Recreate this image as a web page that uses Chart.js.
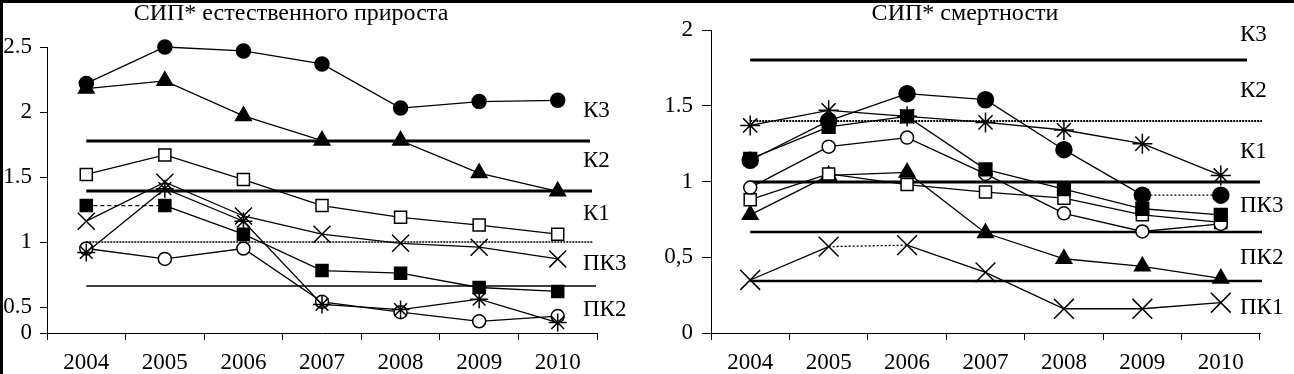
<!DOCTYPE html>
<html>
<head>
<meta charset="utf-8">
<script src="https://cdn.jsdelivr.net/npm/chart.js@4.4.0/dist/chart.umd.min.js"></script>
<style>
  body { margin: 0; background: #fff; width: 1294px; height: 374px; overflow: hidden; position: relative; }
  #left { position: absolute; left: 0; top: 0; }
  #right { position: absolute; left: 640px; top: 0; }
  #frame { position: absolute; left: 0; top: 0; width: 1294px; height: 374px; box-sizing: border-box;
           border-top: 3px solid #000; border-left: 3px solid #000; pointer-events: none; }
</style>
</head>
<body>
<canvas id="left" width="640" height="374"></canvas>
<canvas id="right" width="654" height="374"></canvas>
<div id="frame"></div>
<script>
const years = ['2004', '2005', '2006', '2007', '2008', '2009', '2010'];

// СИП* естественного прироста
const growthCircleFilled = [2.22, 2.50, 2.47, 2.37, 2.03, 2.08, 2.09];
const growthTriangle     = [2.18, 2.24, 1.97, 1.78, 1.78, 1.53, 1.39];
const growthSquareOpen   = [1.52, 1.67, 1.48, 1.28, 1.19, 1.13, 1.06];
const growthSquareFilled = [1.28, 1.28, 1.06, 0.78, 0.76, 0.65, 0.62];
const growthCross        = [1.16, 1.46, 1.20, 1.06, 0.99, 0.96, 0.87];
const growthStar         = [0.92, 1.41, 1.16, 0.52, 0.48, 0.56, 0.38];
const growthCircleOpen   = [0.95, 0.87, 0.95, 0.54, 0.46, 0.39, 0.43];
const growthBounds = [1.78, 1.39, 1.0, 0.66];
const growthZones = ['К3', 'К2', 'К1', 'ПК3', 'ПК2'];
const growthTicks = [0.3, 0.5, 1, 1.5, 2, 2.5];
const growthTickLabels = ['0', '0.5', '1', '1.5', '2', '2.5'];

// СИП* смертности
const deathCircleFilled = [1.14, 1.40, 1.58, 1.54, 1.21, 0.91, 0.91];
const deathSquareFilled = [1.15, 1.36, 1.43, 1.08, 0.95, 0.82, 0.78];
const deathStar         = [1.37, 1.47, 1.43, 1.39, 1.34, 1.25, 1.04];
const deathCircleOpen   = [0.96, 1.23, 1.29, 1.05, 0.79, 0.67, 0.72];
const deathSquareOpen   = [0.88, 1.05, 0.98, 0.93, 0.89, 0.78, 0.73];
const deathTriangle     = [0.78, 1.04, 1.06, 0.66, 0.49, 0.44, 0.36];
const deathCross        = [0.35, 0.57, 0.58, 0.40, 0.16, 0.16, 0.20];
const deathBounds = [1.8, 1.4, 1.0, 0.667, 0.34];
const deathZones = ['К3', 'К2', 'К1', 'ПК3', 'ПК2', 'ПК1'];
const deathTicks = [0, 0.5, 1, 1.5, 2];
const deathTickLabels = ['0', '0,5', '1', '1.5', '2'];

const SERIF = "'Liberation Serif', 'Times New Roman', serif";
const font = { family: SERIF, size: 23 };

// boundary lines between zones + zone names on the right
const zonePlugin = {
  id: 'zones',
  beforeDatasetsDraw(chart, args, opts) {
    const { ctx, chartArea, scales: { x, y } } = chart;
    const x0 = x.getPixelForValue(0);
    ctx.save();
    ctx.strokeStyle = '#000';
    opts.values.forEach((v, i) => {
      const st = opts.styles[i];
      const py = Math.round(y.getPixelForValue(v));
      ctx.lineWidth = st.width;
      ctx.setLineDash(st.dash || []);
      ctx.beginPath();
      ctx.moveTo(x0, py);
      ctx.lineTo(chartArea.right - (st.cut || 0), py);
      ctx.stroke();
    });
    ctx.restore();
  },
  afterDraw(chart, args, opts) {
    const { ctx, chartArea, scales: { y } } = chart;
    ctx.save();
    ctx.fillStyle = '#000';
    ctx.font = `${font.size}px ${SERIF}`;
    ctx.textBaseline = 'middle';
    ctx.textAlign = 'left';
    opts.names.forEach((t, i) => {
      ctx.fillText(t, chartArea.right - opts.inset, y.getPixelForValue(opts.nameAt[i]));
    });
    ctx.font = `24px ${SERIF}`;
    ctx.textAlign = 'center';
    ctx.fillText(opts.title, opts.titleX, 14);
    ctx.restore();
  }
};

function series(data, style, filled, radius, segment) {
  return {
    data,
    pointStyle: style,
    pointRadius: radius,
    pointHoverRadius: radius,
    borderColor: '#000',
    borderWidth: 1.3,
    pointBackgroundColor: filled ? '#000' : '#fff',
    pointBorderColor: '#000',
    pointBorderWidth: 1.5,
    fill: false,
    tension: 0,
    clip: false,
    segment: segment || {}
  };
}

const dashFirst = { borderDash: c => c.p0DataIndex === 0 ? [4, 3] : undefined };

function makeChart(id, datasets, o) {
  return new Chart(document.getElementById(id), {
    type: 'line',
    data: { labels: years, datasets },
    options: {
      responsive: false,
      animation: false,
      events: [],
      layout: { padding: { top: o.padTop, right: o.padRight, left: 0, bottom: 0 } },
      plugins: { legend: { display: false }, tooltip: { enabled: false }, zones: o.zones },
      scales: {
        x: {
          offset: true,
          grid: { offset: true, drawOnChartArea: false, tickLength: 7, color: '#000' },
          border: { color: '#000', width: 1, dash: [2, 2] },
          ticks: { color: '#000', font, padding: 9, maxRotation: 0 },
          afterFit: s => { s.height = 41; }
        },
        y: {
          min: o.ticks[0],
          max: o.ticks[o.ticks.length - 1],
          afterBuildTicks: s => { s.ticks = o.ticks.map(v => ({ value: v })); },
          grid: { drawOnChartArea: false, tickLength: o.tickLen, color: '#000' },
          border: { color: '#000', width: 1, dash: [2, 2] },
          ticks: { color: '#000', font, padding: o.labelPad, callback: (v, i) => o.tickLabels[i] },
          afterFit: s => { s.width = o.yWidth; }
        }
      }
    },
    plugins: [zonePlugin]
  });
}

makeChart('left', [
  series(growthCircleFilled, 'circle', true, 7),
  series(growthTriangle, 'triangle', true, 9),
  series(growthSquareOpen, 'rect', false, 8.5),
  series(growthSquareFilled, 'rect', true, 8.5, dashFirst),
  series(growthCross, 'crossRot', false, 12),
  series(growthStar, 'star', false, 9),
  series(growthCircleOpen, 'circle', false, 6.5)
], {
  padTop: 47, padRight: 43, yWidth: 47, tickLen: 7, labelPad: 8,
  ticks: growthTicks, tickLabels: growthTickLabels,
  zones: {
    values: growthBounds,
    styles: [{ width: 3, cut: 7 }, { width: 3, cut: 5 }, { width: 1.5, dash: [2, 1], cut: 4 }, { width: 1.5, cut: 1 }],
    names: growthZones,
    nameAt: [2.01, 1.62, 1.215, 0.83, 0.48],
    inset: 14,
    title: 'СИП* естественного прироста',
    titleX: 291
  }
});

makeChart('right', [
  series(deathCircleFilled, 'circle', true, 8, { borderDash: c => c.p0DataIndex === 5 ? [2, 2] : undefined }),
  series(deathSquareFilled, 'rect', true, 9),
  series(deathStar, 'star', false, 10),
  series(deathCircleOpen, 'circle', false, 6.5),
  series(deathSquareOpen, 'rect', false, 8.5),
  series(deathTriangle, 'triangle', true, 9),
  series(deathCross, 'crossRot', false, 14, { borderDash: c => c.p0DataIndex === 1 ? [2, 2] : undefined })
], {
  padTop: 30, padRight: 34, yWidth: 71, tickLen: 9, labelPad: 9,
  ticks: deathTicks, tickLabels: deathTickLabels,
  zones: {
    values: deathBounds,
    styles: [{ width: 3, cut: 13 }, { width: 2, dash: [2, 1], cut: -2 }, { width: 3 }, { width: 2.5, cut: -2 }, { width: 2.5, cut: -2 }],
    names: deathZones,
    nameAt: [1.97, 1.6, 1.195, 0.84, 0.495, 0.165],
    inset: 20,
    title: 'СИП* смертности',
    titleX: 325
  }
});
</script>
</body>
</html>
